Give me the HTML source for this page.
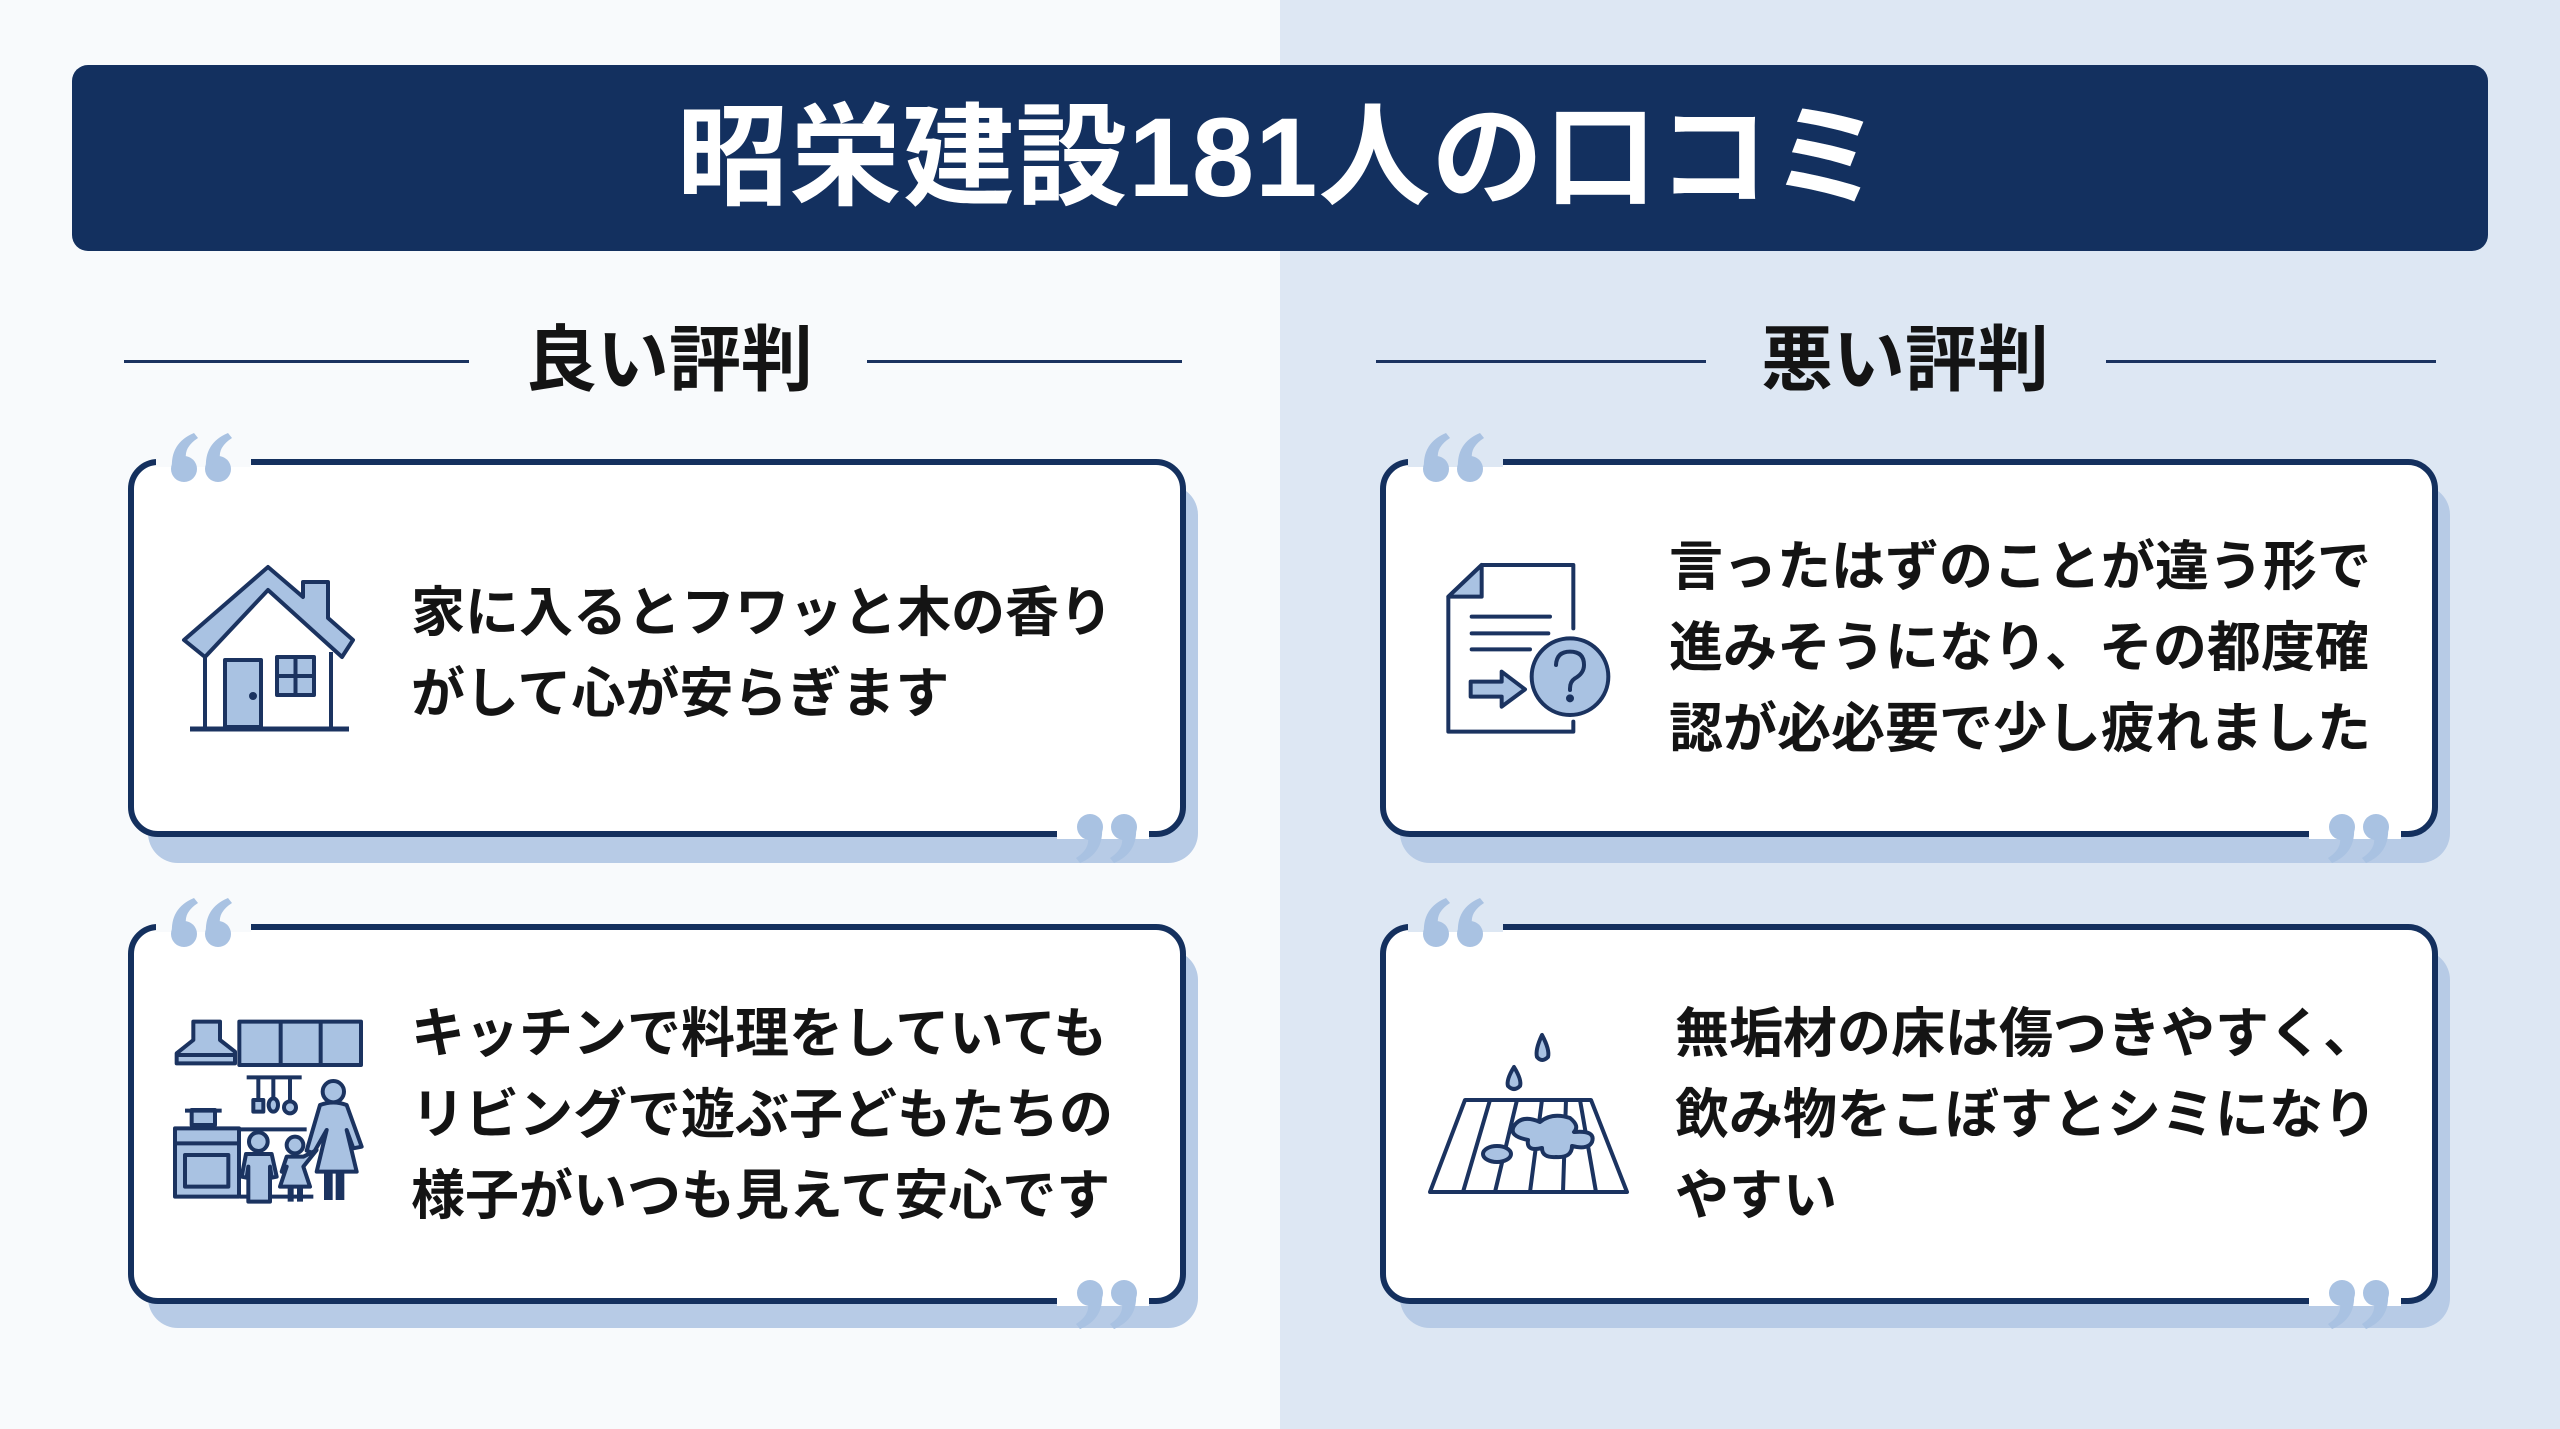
<!DOCTYPE html>
<html><head><meta charset="utf-8"><style>
*{margin:0;padding:0;box-sizing:border-box}
body{width:2560px;height:1429px;position:relative;overflow:hidden;font-family:"Liberation Sans","Noto Sans CJK JP",sans-serif;font-weight:700;background:#f8fafc}
.rbg{position:absolute;left:1280px;top:0;width:1280px;height:1429px;background:#dde7f3}
.title{position:absolute;left:72px;top:65px;width:2416px;height:186px;background:#13305f;border-radius:16px;color:#fff;font-size:112px;text-align:center;line-height:186px;letter-spacing:1px}
.h{position:absolute;top:318px;font-size:72px;line-height:86px;color:#141414;text-align:center;width:400px}
.ln{position:absolute;top:360px;height:3px;background:#1b3360}
.shadow{position:absolute;background:#b7cbe6;border-radius:30px}
.card{position:absolute;background:#fff;border:6px solid #14305e;border-radius:30px}
.gap{position:absolute;height:10px}
.q{position:absolute}
.t{position:absolute;font-size:54px;line-height:81px;color:#141414;white-space:nowrap}
</style></head><body>
<div class="rbg"></div>
<div class="title">昭栄建設181人の口コミ</div>

<div class="ln" style="left:124px;width:345px"></div>
<div class="ln" style="left:867px;width:315px"></div>
<div class="h" style="left:469px">良い評判</div>
<div class="ln" style="left:1376px;width:330px"></div>
<div class="ln" style="left:2106px;width:330px"></div>
<div class="h" style="left:1705px">悪い評判</div>

<div class="shadow" style="left:148px;top:485px;width:1050px;height:378px"></div>
<div class="card" style="left:128px;top:459px;width:1058px;height:378px"></div>
<div class="shadow" style="left:148px;top:950px;width:1050px;height:378px"></div>
<div class="card" style="left:128px;top:924px;width:1058px;height:380px"></div>
<div class="shadow" style="left:1400px;top:485px;width:1050px;height:378px"></div>
<div class="card" style="left:1380px;top:459px;width:1058px;height:378px"></div>
<div class="shadow" style="left:1400px;top:950px;width:1050px;height:378px"></div>
<div class="card" style="left:1380px;top:924px;width:1058px;height:380px"></div>

<div class="gap" style="left:156px;top:457px;width:95px;background:#f8fafc"></div>
<div class="gap" style="left:1057px;top:829px;width:92px;background:#fff"></div>
<div class="gap" style="left:156px;top:922px;width:95px;background:#f8fafc"></div>
<div class="gap" style="left:1057px;top:1296px;width:92px;background:#fff"></div>
<div class="gap" style="left:1408px;top:457px;width:95px;background:#dde7f3"></div>
<div class="gap" style="left:2309px;top:829px;width:92px;background:#fff"></div>
<div class="gap" style="left:1408px;top:922px;width:95px;background:#dde7f3"></div>
<div class="gap" style="left:2309px;top:1296px;width:92px;background:#fff"></div>

<svg width="0" height="0" style="position:absolute"><defs>
<g id="oq" fill="#a9c2e2"><circle cx="14" cy="36" r="13"/><path d="M2 36 Q0 10 24 0 L28 5 Q14 14 16 26 Z"/><circle cx="48" cy="36" r="13"/><path d="M36 36 Q34 10 58 0 L62 5 Q48 14 50 26 Z"/></g>
</defs></svg>
<svg class="q" style="left:170px;top:433px" width="63" height="50" viewBox="0 0 63 50"><use href="#oq"/></svg>
<svg class="q" style="left:1075px;top:813px" width="63" height="50" viewBox="0 0 63 50"><g transform="rotate(180 31.5 25)"><use href="#oq"/></g></svg>
<svg class="q" style="left:170px;top:898px" width="63" height="50" viewBox="0 0 63 50"><use href="#oq"/></svg>
<svg class="q" style="left:1075px;top:1279px" width="63" height="50" viewBox="0 0 63 50"><g transform="rotate(180 31.5 25)"><use href="#oq"/></g></svg>
<svg class="q" style="left:1422px;top:433px" width="63" height="50" viewBox="0 0 63 50"><use href="#oq"/></svg>
<svg class="q" style="left:2327px;top:813px" width="63" height="50" viewBox="0 0 63 50"><g transform="rotate(180 31.5 25)"><use href="#oq"/></g></svg>
<svg class="q" style="left:1422px;top:898px" width="63" height="50" viewBox="0 0 63 50"><use href="#oq"/></svg>
<svg class="q" style="left:2327px;top:1279px" width="63" height="50" viewBox="0 0 63 50"><g transform="rotate(180 31.5 25)"><use href="#oq"/></g></svg>

<div class="t" style="left:411px;top:573px">家に入るとフワッと木の香り<br>がして心が安らぎます</div>
<div class="t" style="left:411px;top:994px">キッチンで料理をしていても<br>リビングで遊ぶ子どもたちの<br>様子がいつも見えて安心です</div>
<div class="t" style="left:1669px;top:527px">言ったはずのことが違う形で<br>進みそうになり、その都度確<br>認が必必要で少し疲れました</div>
<div class="t" style="left:1675px;top:994px">無垢材の床は傷つきやすく、<br>飲み物をこぼすとシミになり<br>やすい</div>

<!-- house + floor icons in page coordinates -->
<svg style="position:absolute;left:0;top:0" width="2560" height="1429" viewBox="0 0 2560 1429" fill="none" stroke="#1b3360" stroke-width="4" stroke-linejoin="round">
<path d="M205 652 V727 M331 652 V727"/>
<path d="M184 640 L268 567 L303 597 V582 H328 V618 L353 640 L342 657 L268 590 L205 657 Z" fill="#a9c2e2"/>
<rect x="225" y="660" width="36" height="67" fill="#a9c2e2"/>
<circle cx="253" cy="696" r="2" fill="#1b3360"/>
<rect x="277" y="657" width="37" height="38" fill="#a9c2e2"/>
<path d="M295.5 657 V695 M277 676 H314"/>
<path d="M190 729 H349" stroke-width="5"/>

<path d="M1465 1100 H1591 L1627 1192 H1430 Z" fill="#fff"/>
<path d="M1490 1100 L1463 1192 M1517 1100 L1495 1192 M1542 1100 L1530 1192 M1566 1100 L1563 1192 M1580 1100 L1596 1192" />
<path d="M1528 1140 Q1508 1136 1514 1126 Q1522 1114 1540 1122 Q1552 1112 1570 1118 Q1580 1126 1574 1132 Q1596 1130 1592 1142 Q1588 1150 1572 1146 Q1572 1158 1556 1157 Q1542 1158 1542 1148 Q1526 1152 1528 1140 Z" fill="#a9c2e2"/>
<ellipse cx="1497" cy="1154" rx="14" ry="8" fill="#a9c2e2"/>
<path d="M1514 1067 Q1506 1080 1508 1086 Q1514 1092 1520 1086 Q1522 1080 1514 1067 Z" fill="#a9c2e2"/>
<path d="M1542 1035 Q1535 1050 1537 1057 Q1542 1063 1548 1057 Q1550 1050 1542 1035 Z" fill="#a9c2e2"/>
</svg>

<!-- kitchen icon -->
<svg style="position:absolute;left:160px;top:990px" width="220" height="230" viewBox="0 0 660 690" fill="#a9c2e2" stroke="#1b3360" stroke-width="12" stroke-linejoin="round">
<path d="M100 95 H180 V150 L225 185 V220 H50 V190 L100 150 Z"/>
<path d="M50 195 H225"/>
<rect x="238" y="95" width="365" height="130"/>
<path d="M362 95 V225 M482 95 V225" fill="none"/>
<path d="M260 262 H425 M295 262 V330 M340 262 V330 M390 262 V335" fill="none"/>
<rect x="280" y="330" width="30" height="35"/>
<ellipse cx="340" cy="345" rx="14" ry="20"/>
<circle cx="390" cy="352" r="18"/>
<rect x="95" y="360" width="70" height="45"/>
<path d="M75 362 H185" fill="none"/>
<rect x="45" y="415" width="192" height="205"/>
<path d="M45 460 H237" fill="none"/>
<rect x="75" y="495" width="130" height="95"/>
<path d="M240 418 H440 M240 620 H460" fill="none"/>
<circle cx="520" cy="305" r="32"/>
<path d="M480 345 Q520 330 560 345 L605 470 L580 475 L560 420 L590 545 H470 L500 420 L460 490 L440 482 Z"/>
<path d="M505 545 V630 M540 545 V630" fill="none" stroke-width="26"/>
<circle cx="295" cy="455" r="28"/>
<path d="M258 492 H335 L350 560 L335 563 L330 530 V635 H265 V530 L260 563 L245 560 Z"/>
<circle cx="405" cy="465" r="25"/>
<path d="M380 500 H430 L470 480 L430 530 L450 590 H360 L380 530 L365 545 Z"/>
<path d="M392 590 V635 M420 590 V635" fill="none" stroke-width="18"/>
</svg>

<!-- document icon -->
<svg style="position:absolute;left:1430px;top:550px" width="200" height="200" viewBox="0 0 600 600" fill="none" stroke="#1b3360" stroke-width="12" stroke-linejoin="round" stroke-linecap="round">
<path d="M430 235 V45 H155 L55 140 V545 H430 V515"/>
<path d="M155 45 V140 H55 Z" fill="#a9c2e2"/>
<path d="M125 200 H360 M125 250 H355 M125 298 H300"/>
<path d="M122 395 H215 V365 L285 418 L215 470 V440 H122 Z" fill="#a9c2e2"/>
<circle cx="420" cy="380" r="115" fill="#a9c2e2"/>
<path d="M378 345 Q380 305 420 305 Q462 305 462 345 Q462 370 435 385 Q420 395 420 415 V420"/>
<circle cx="420" cy="445" r="6" fill="#1b3360"/>
</svg>
</body></html>
